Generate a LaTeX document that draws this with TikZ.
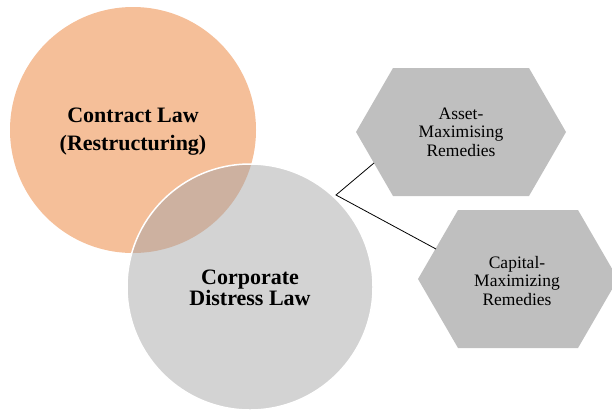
\documentclass[tikz,border=0pt]{standalone}
\usepackage{fontspec}
\setmainfont{Liberation Serif}
\usetikzlibrary{positioning}
\definecolor{peach}{HTML}{F5BF99}
\definecolor{lightgrey}{HTML}{D3D3D3}
\definecolor{overlap}{HTML}{CDB1A0}
\definecolor{hexgrey}{HTML}{BFBFBF}
\begin{document}
\begin{tikzpicture}[x=1pt,y=-1pt,inner sep=0pt,
  hex/.style={fill=hexgrey},
  bigtext/.style={align=center,font=\bfseries\fontsize{22}{28}\selectfont},
  bigtexttight/.style={align=center,font=\bfseries\fontsize{22}{21.5}\selectfont},
  hextext/.style={align=center,font=\fontsize{17.5}{18.5}\selectfont}]
\useasboundingbox (0,0) rectangle (612,410);
\fill[peach] (133,130) circle[radius=123pt];
\fill[lightgrey] (250,287) circle[radius=123pt];
\begin{scope}
\clip (133,130) circle[radius=123pt];
\fill[overlap] (250,287) circle[radius=123pt];
\end{scope}
\draw[white,line width=1.5pt] (250,287) circle[radius=123pt];
\path[hex] (356,132) -- (393,68) -- (529,68) -- (566,132) -- (529,196) -- (393,196) -- cycle;
\path[hex] (418,279) -- (458,210) -- (578,210) -- (618,279) -- (578,348) -- (458,348) -- cycle;
\coordinate (fork) at (336,195);
\coordinate (asset edge) at (374,163);
\coordinate (capital edge) at (436,249);
\draw[line width=0.8pt] (asset edge) -- (fork) -- (capital edge);
\node[bigtext] (contract) at (133,132) {Contract Law\\(Restructuring)};
\node[bigtexttight] (distress) at (250,288) {Corporate\\Distress Law};
\node[hextext] (asset) at (461,132) {Asset-\\Maximising\\Remedies};
\node[hextext] (capital) at (517,281) {Capital-\\Maximizing\\Remedies};
\end{tikzpicture}
\end{document}
